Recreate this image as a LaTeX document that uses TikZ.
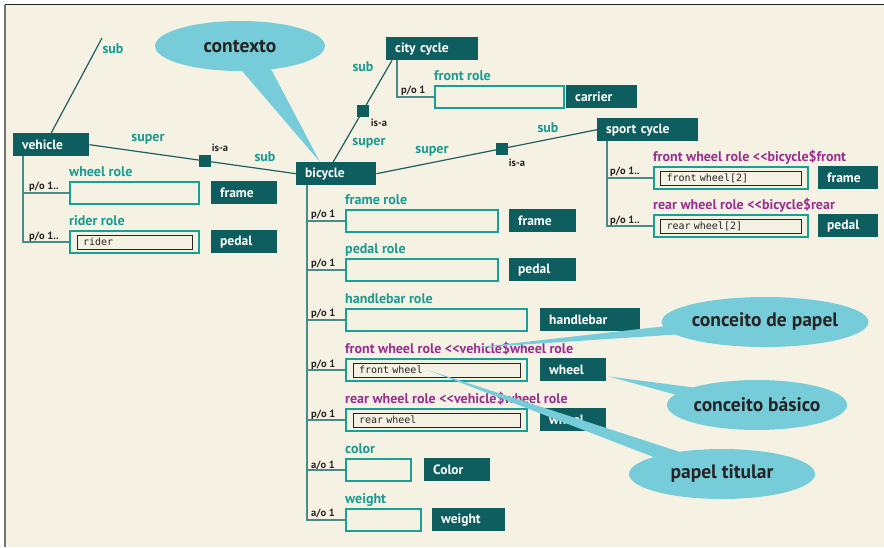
\documentclass[tikz,border=0pt]{standalone}
\usepackage{fontspec}
\setmainfont{PT Sans}
\setmonofont{DejaVu Sans Mono}
\usetikzlibrary{shapes.callouts,calc,positioning}

\definecolor{paper}{HTML}{F5F1E3}
\definecolor{clsfill}{HTML}{0E5E60}
\definecolor{roleline}{HTML}{17A096}
\definecolor{roletext}{HTML}{1A9B92}
\definecolor{inherit}{HTML}{9A2D91}
\definecolor{bubblec}{HTML}{76CDD9}
\definecolor{treeline}{HTML}{4A8A88}
\definecolor{linkline}{HTML}{1F5E62}
\definecolor{inktext}{HTML}{262324}

\newcommand\clsfont{\bfseries\fontsize{13.5}{15}\selectfont}
\newcommand\lblfont{\bfseries\fontsize{14}{16}\selectfont}
\newcommand\multfont{\bfseries\fontsize{10.5}{12}\selectfont}
\newcommand\valfont{\ttfamily\fontsize{10}{11}\selectfont}
\newcommand\bubfont{\bfseries\fontsize{19.5}{21}\selectfont}

\begin{document}
\begin{tikzpicture}[
  x=1pt, y=-1pt,
  cls/.style = {fill=clsfill, text=white, font=\clsfont, anchor=north west,
    inner xsep=9pt, inner ysep=0pt, minimum height=23pt, text width=#1, align=left},
  rolebox/.style = {draw=roleline, line width=2pt, anchor=north west,
    minimum width=#1, minimum height=22pt, inner sep=0pt},
  valbox/.style = {draw=inktext, line width=0.8pt, fill=paper, text=inktext,
    font=\valfont, minimum height=14pt, inner xsep=6pt, inner ysep=0pt,
    text width=#1, align=left},
  rolelbl/.style = {text=roletext, font=\lblfont, anchor=base west, inner sep=0pt},
  inhlbl/.style = {rolelbl, text=inherit},
  mult/.style = {text=inktext, font=\multfont, anchor=base west, inner sep=0pt},
  link/.style = {draw=linkline, line width=1.2pt},
  tree/.style = {draw=treeline, line width=1.5pt},
  isa/.style = {fill=clsfill, minimum size=12pt, inner sep=0pt},
  isalbl/.style = {text=inktext, font=\multfont, inner sep=0pt},
  endlbl/.style = {text=roletext, font=\lblfont, inner sep=0pt},
  bubble/.style = {ellipse callout, fill=bubblec, text=inktext, font=\bubfont,
    inner sep=0pt, minimum height=50pt, callout pointer arc=20}
]
  % page and frame
  \useasboundingbox (0,0) rectangle (884,547);
  \fill[white] (0,0) rectangle (884,547);
  \fill[paper] (5,5) rectangle (884,547);
  \draw[inktext, line width=1.3pt] (4.5,4.5) -- (884,4.5);
  \draw[black!55, line width=1.6pt] (5,4.5) -- (5,547);

  % vehicle
  \node[cls=58pt] (vehicle) at (13,133) {vehicle};
  \node[rolebox=129pt] (vwheel) at (69,181) {};
  \node[rolelbl] (vwheellbl) at ($(vwheel.north west)+(0,-5)$) {wheel role};
  \node[cls=48pt] (vframe) at (211,181) {frame};
  \node[rolebox=129pt] (vrider) at (69,230) {};
  \node[valbox=103pt] (vriderval) at (vrider.center) {rider};
  \node[rolelbl] (vriderlbl) at ($(vrider.north west)+(0,-5)$) {rider role};
  \node[cls=48pt] (vpedal) at (211,230) {pedal};
  \node[mult] (vwheelm) at (29,189) {p/o 1..};
  \node[mult] (vriderm) at (29,239) {p/o 1..};
  \draw[tree] ($(vehicle.south west)+(10,0)$) |- (vwheel.west);
  \draw[tree] ($(vehicle.south west)+(10,0)$) |- (vrider.west);
  \coordinate (vsubend) at (102,38);
  \draw[link] (vehicle.north) -- (vsubend);
  \node[endlbl] (vsub) at (113,49) {sub};

  % bicycle
  \node[cls=62pt] (bicycle) at (296,162) {bicycle};
  \node[rolebox=152pt] (bframe) at (345,209) {};
  \node[rolelbl] (bframelbl) at ($(bframe.north west)+(0,-5)$) {frame role};
  \node[cls=49pt] (bframec) at (509,209) {frame};
  \node[rolebox=152pt] (bpedal) at (345,258) {};
  \node[rolelbl] (bpedallbl) at ($(bpedal.north west)+(0,-5)$) {pedal role};
  \node[cls=49pt] (bpedalc) at (509,258) {pedal};
  \node[rolebox=181pt] (bhandle) at (345,308) {};
  \node[rolelbl] (bhandlelbl) at ($(bhandle.north west)+(0,-5)$) {handlebar role};
  \node[cls=82pt] (bhandlec) at (540,308) {handlebar};
  \node[rolebox=181pt] (bfront) at (345,358) {};
  \node[valbox=155pt] (bfrontval) at (bfront.center) {front wheel};
  \node[inhlbl] (bfrontlbl) at ($(bfront.north west)+(0,-5)$) {front wheel role <\kern0pt<vehicle\$wheel role};
  \node[cls=48pt] (bfrontc) at (540,358) {wheel};
  \node[rolebox=181pt] (brear) at (345,408) {};
  \node[valbox=155pt] (brearval) at (brear.center) {rear wheel};
  \node[inhlbl] (brearlbl) at ($(brear.north west)+(0,-5)$) {rear wheel role <\kern0pt<vehicle\$wheel role};
  \node[cls=48pt] (brearc) at (540,408) {wheel};
  \node[rolebox=65pt] (bcolor) at (345,458) {};
  \node[rolelbl] (bcolorlbl) at ($(bcolor.north west)+(0,-5)$) {color};
  \node[cls=48pt] (bcolorc) at (424,458) {Color};
  \node[rolebox=75pt] (bweight) at (345,508) {};
  \node[rolelbl] (bweightlbl) at ($(bweight.north west)+(0,-5)$) {weight};
  \node[cls=55pt] (bweightc) at (432,508) {weight};
  \node[mult] (bframem) at (311,217) {p/o 1};
  \node[mult] (bpedalm) at (311,266) {p/o 1};
  \node[mult] (bhandlem) at (311,316) {p/o 1};
  \node[mult] (bfrontm) at (311,367) {p/o 1};
  \node[mult] (brearm) at (311,417) {p/o 1};
  \node[mult] (bcolorm) at (311,468) {a/o 1};
  \node[mult] (bweightm) at (311,516) {a/o 1};
  \foreach \r in {bframe,bpedal,bhandle,bfront,brear,bcolor,bweight}
    \draw[tree] ($(bicycle.south west)+(11,0)$) |- (\r.west);

  % vehicle -> bicycle
  \draw[link] (vehicle.east) -- node[isa, pos=0.56] (isavb) {} (bicycle.west);
  \node[isalbl] (isavblbl) at (220,148) {is-a};
  \node[endlbl] (vbsuper) at (148,139) {super};
  \node[endlbl] (vbsub) at (265,157) {sub};

  % city cycle
  \node[cls=74pt] (city) at (386,37) {city cycle};
  \node[rolebox=129pt] (cfront) at (434,85) {};
  \node[rolelbl] (cfrontlbl) at ($(cfront.north west)+(0,-5)$) {front role};
  \node[cls=53pt] (cfrontc) at (566,85) {carrier};
  \node[mult] (cfrontm) at (401,93) {p/o 1};
  \draw[tree] ($(city.south west)+(11,0)$) |- (cfront.west);
  \draw[link] ($(bicycle.north)+(-3,0)$) -- node[isa] (isabc) {} ($(city.south west)+(6,0)$);
  \node[isalbl] (isabclbl) at (379,123) {is-a};
  \node[endlbl] (bcsub) at (363,67) {sub};
  \node[endlbl] (bcsuper) at (369,143) {super};

  % sport cycle
  \node[cls=83pt] (sport) at (597,118) {sport cycle};
  \node[rolebox=154pt] (sfront) at (653,166) {};
  \node[valbox=129pt] (sfrontval) at (sfront.center) {front wheel[2]};
  \node[inhlbl] (sfrontlbl) at ($(sfront.north west)+(0,-5)$) {front wheel role <\kern0pt<bicycle\$front};
  \node[cls=42pt] (sfrontc) at (818,166) {frame};
  \node[rolebox=154pt] (srear) at (653,214) {};
  \node[valbox=129pt] (srearval) at (srear.center) {rear wheel[2]};
  \node[inhlbl] (srearlbl) at ($(srear.north west)+(0,-5)$) {rear wheel role <\kern0pt<bicycle\$rear};
  \node[cls=42pt] (srearc) at (818,214) {pedal};
  \node[mult] (sfrontm) at (610,174) {p/o 1..};
  \node[mult] (srearm) at (610,223) {p/o 1..};
  \draw[tree] ($(sport.south west)+(10,0)$) |- (sfront.west);
  \draw[tree] ($(sport.south west)+(10,0)$) |- (srear.west);
  \draw[link] (bicycle.east) -- node[isa, pos=0.57] (isabs) {} (sport.west);
  \node[isalbl] (isabslbl) at (517,163) {is-a};
  \node[endlbl] (bssuper) at (432,151) {super};
  \node[endlbl] (bssub) at (548,128) {sub};

  % callouts
  \node[bubble, minimum width=170pt,
    callout absolute pointer={($(bicycle.north west)+(24,0)$)}] (ctx) at (240,46) {contexto};
  \node[bubble, minimum width=176pt,
    callout absolute pointer={($(bfrontlbl.base)+(12,-5)$)}] (rolec) at (765,322) {conceito de papel};
  \node[bubble, minimum width=180pt,
    callout absolute pointer={($(bfrontc.south east)+(2,-5)$)}] (basec) at (757,405) {conceito básico};
  \node[bubble, minimum width=186pt,
    callout absolute pointer={($(bfrontval.west)+(75,0)$)}] (playerc) at (722,474) {papel titular};
\end{tikzpicture}
\end{document}
